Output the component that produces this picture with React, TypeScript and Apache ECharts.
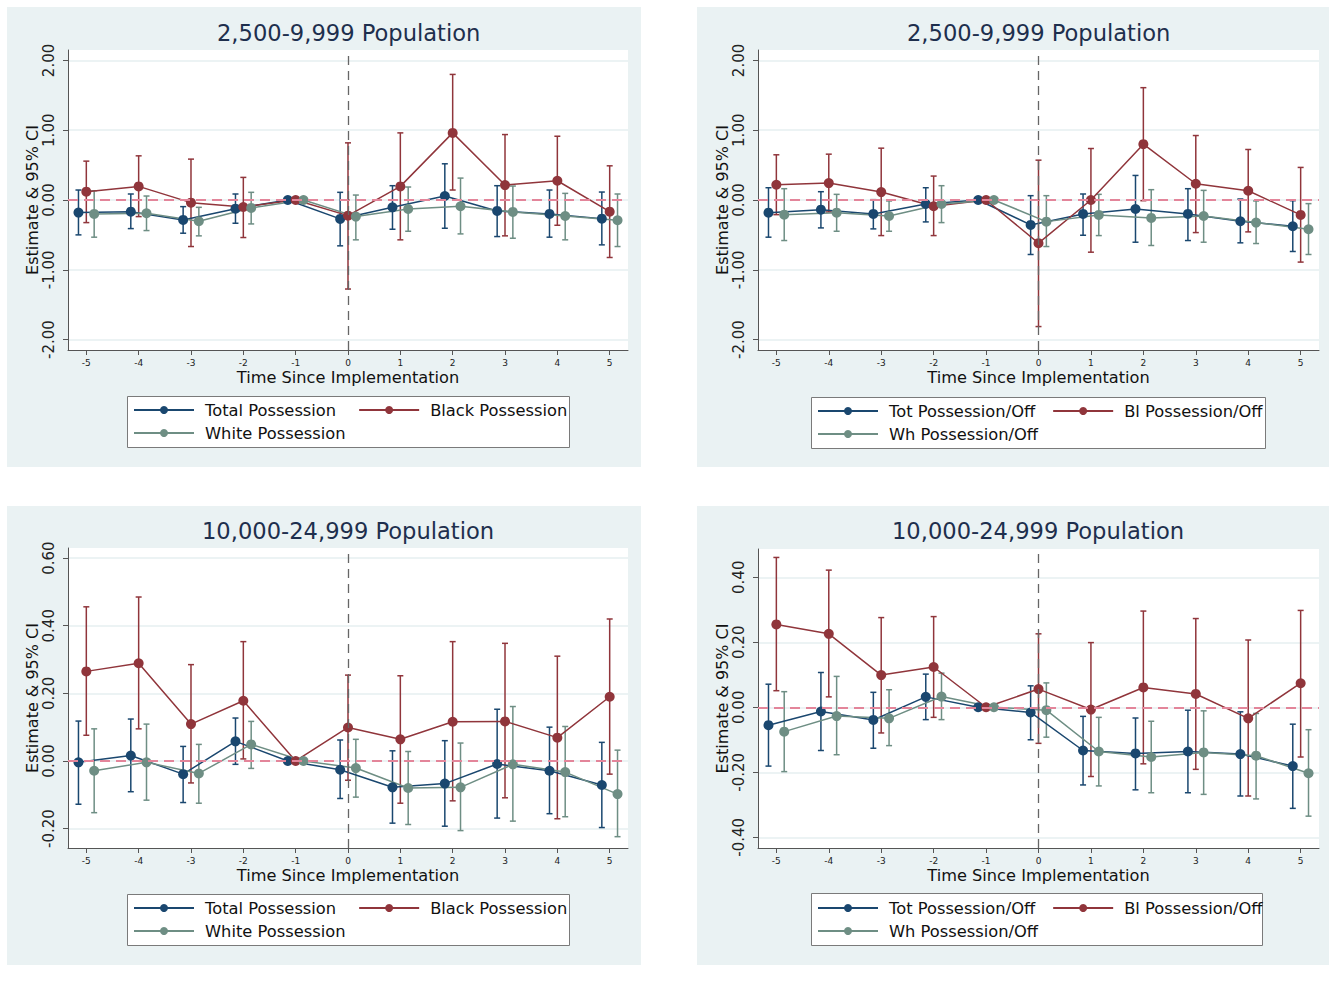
import React, { useEffect, useRef } from "react";
import * as echarts from "echarts";

// ---------- data ----------
const periods = [-5, -4, -3, -2, -1, 0, 1, 2, 3, 4, 5];

// Panel 1: 2,500-9,999 (possession)
const p1TotalEst = [-0.18, -0.167, -0.286, -0.124, 0, -0.271, -0.105, 0.057, -0.157, -0.2, -0.267];
const p1TotalLo = [-0.5, -0.41, -0.476, -0.333, null, -0.657, -0.419, -0.405, -0.524, -0.533, -0.643];
const p1TotalHi = [0.143, 0.086, -0.095, 0.086, null, 0.11, 0.205, 0.519, 0.205, 0.143, 0.114];
const p1BlackEst = [0.119, 0.195, -0.038, -0.1, 0, -0.224, 0.195, 0.962, 0.214, 0.276, -0.167];
const p1BlackLo = [-0.324, -0.238, -0.667, -0.538, null, -1.276, -0.571, 0.143, -0.514, -0.362, -0.824];
const p1BlackHi = [0.557, 0.633, 0.586, 0.324, null, 0.819, 0.962, 1.8, 0.938, 0.914, 0.49];
const p1WhiteEst = [-0.2, -0.19, -0.305, -0.114, 0, -0.238, -0.129, -0.09, -0.171, -0.229, -0.29];
const p1WhiteLo = [-0.533, -0.438, -0.514, -0.343, null, -0.571, -0.448, -0.486, -0.548, -0.571, -0.667];
const p1WhiteHi = [0.133, 0.057, -0.105, 0.11, null, 0.071, 0.186, 0.314, 0.2, 0.095, 0.086];

// Panel 2: 2,500-9,999 (possession / offenses)
const p2TotEst = [-0.181, -0.138, -0.2, -0.057, 0, -0.357, -0.2, -0.129, -0.2, -0.305, -0.376];
const p2TotLo = [-0.533, -0.4, -0.414, -0.314, null, -0.781, -0.505, -0.605, -0.581, -0.614, -0.738];
const p2TotHi = [0.176, 0.119, 0.005, 0.176, null, 0.062, 0.086, 0.352, 0.162, 0.014, -0.01];
const p2BlEst = [0.219, 0.243, 0.114, -0.09, 0, -0.619, 0.0, 0.8, 0.233, 0.133, -0.214];
const p2BlLo = [-0.21, -0.171, -0.51, -0.51, null, -1.814, -0.748, -0.01, -0.467, -0.457, -0.89];
const p2BlHi = [0.648, 0.657, 0.743, 0.343, null, 0.571, 0.738, 1.61, 0.924, 0.724, 0.467];
const p2WhEst = [-0.21, -0.181, -0.229, -0.057, 0, -0.31, -0.214, -0.257, -0.229, -0.324, -0.419];
const p2WhLo = [-0.581, -0.448, -0.448, -0.324, null, -0.667, -0.51, -0.652, -0.605, -0.624, -0.781];
const p2WhHi = [0.162, 0.081, -0.014, 0.205, null, 0.062, 0.081, 0.148, 0.138, -0.014, -0.052];

// Panel 3: 10,000-24,999 (possession)
const p3TotalEst = [-0.004, 0.016, -0.039, 0.058, 0, -0.026, -0.078, -0.067, -0.009, -0.029, -0.071];
const p3TotalLo = [-0.128, -0.091, -0.123, -0.01, null, -0.111, -0.184, -0.193, -0.169, -0.156, -0.197];
const p3TotalHi = [0.118, 0.124, 0.043, 0.127, null, 0.062, 0.03, 0.06, 0.153, 0.1, 0.055];
const p3BlackEst = [0.265, 0.289, 0.109, 0.178, 0, 0.099, 0.064, 0.116, 0.117, 0.069, 0.19];
const p3BlackLo = [0.076, 0.095, -0.065, 0.006, null, -0.057, -0.125, -0.118, -0.109, -0.171, -0.039];
const p3BlackHi = [0.456, 0.485, 0.285, 0.353, null, 0.254, 0.252, 0.353, 0.348, 0.31, 0.42];
const p3WhiteEst = [-0.029, -0.004, -0.037, 0.049, 0, -0.021, -0.08, -0.078, -0.01, -0.033, -0.098];
const p3WhiteLo = [-0.153, -0.116, -0.125, -0.022, null, -0.107, -0.188, -0.206, -0.178, -0.165, -0.224];
const p3WhiteHi = [0.095, 0.109, 0.049, 0.117, null, 0.064, 0.028, 0.053, 0.161, 0.102, 0.032];

// Panel 4: 10,000-24,999 (possession / offenses)
const p4TotEst = [-0.055, -0.013, -0.039, 0.032, 0, -0.016, -0.133, -0.142, -0.136, -0.144, -0.181];
const p4TotLo = [-0.181, -0.133, -0.126, -0.038, null, -0.1, -0.239, -0.254, -0.263, -0.273, -0.311];
const p4TotHi = [0.071, 0.107, 0.046, 0.102, null, 0.066, -0.028, -0.033, -0.009, -0.014, -0.052];
const p4BlEst = [0.255, 0.226, 0.099, 0.124, 0, 0.056, -0.007, 0.061, 0.041, -0.034, 0.074];
const p4BlLo = [0.051, 0.032, -0.079, -0.031, null, -0.111, -0.213, -0.174, -0.191, -0.273, -0.153];
const p4BlHi = [0.461, 0.422, 0.276, 0.279, null, 0.226, 0.199, 0.296, 0.273, 0.207, 0.298];
const p4WhEst = [-0.075, -0.027, -0.034, 0.033, 0, -0.009, -0.136, -0.153, -0.139, -0.149, -0.203];
const p4WhLo = [-0.198, -0.146, -0.118, -0.038, null, -0.092, -0.242, -0.263, -0.268, -0.282, -0.335];
const p4WhHi = [0.048, 0.095, 0.054, 0.105, null, 0.075, -0.031, -0.043, -0.011, -0.019, -0.069];

const leftNames = ["Total Possession", "Black Possession", "White Possession"];
const rightNames = ["Tot Possession/Off", "Bl Possession/Off", "Wh Possession/Off"];
const panelTitles = [
  "2,500-9,999 Population",
  "2,500-9,999 Population",
  "10,000-24,999 Population",
  "10,000-24,999 Population",
];
const yTicksTop = [-2, -1, 0, 1, 2];
const yTicksBL = [-0.2, 0, 0.2, 0.4, 0.6];
const yTicksBR = [-0.4, -0.2, 0, 0.2, 0.4];
const xAxisTitle = "Time Since Implementation";
const yAxisTitle = "Estimate & 95% CI";

// ---------- styling / layout ----------
const FONT = "DejaVu Sans";
const COLORS = ["#1a476f", "#90353b", "#6e8e84"];
const OFFSETS = [-0.15, 0, 0.15];
const PANEL_BG = "#eaf2f3";

const panels = [
  {
    names: leftNames,
    est: [p1TotalEst, p1BlackEst, p1WhiteEst],
    lo: [p1TotalLo, p1BlackLo, p1WhiteLo],
    hi: [p1TotalHi, p1BlackHi, p1WhiteHi],
    yTicks: yTicksTop, yMin: -2.15, yMax: 2.15,
    bg: [7, 7, 634, 460],
    grid: { left: 68, top: 50, width: 560, height: 300 },
    titleLeft: 217, titleTop: 21,
    box: [127, 396, 442, 51], legLeft: 133, legTop: 402, padR: 15,
  },
  {
    names: rightNames,
    est: [p2TotEst, p2BlEst, p2WhEst],
    lo: [p2TotLo, p2BlLo, p2WhLo],
    hi: [p2TotHi, p2BlHi, p2WhHi],
    yTicks: yTicksTop, yMin: -2.15, yMax: 2.15,
    bg: [697, 7, 632, 460],
    grid: { left: 758, top: 50, width: 561, height: 300 },
    titleLeft: 907, titleTop: 21,
    box: [811, 397, 454, 51], legLeft: 817, legTop: 403, padR: 10,
  },
  {
    names: leftNames,
    est: [p3TotalEst, p3BlackEst, p3WhiteEst],
    lo: [p3TotalLo, p3BlackLo, p3WhiteLo],
    hi: [p3TotalHi, p3BlackHi, p3WhiteHi],
    yTicks: yTicksBL, yMin: -0.2575, yMax: 0.63,
    bg: [7, 506, 634, 459],
    grid: { left: 68, top: 548, width: 560, height: 300 },
    titleLeft: 202, titleTop: 519,
    box: [127, 894, 442, 51], legLeft: 133, legTop: 900, padR: 15,
  },
  {
    names: rightNames,
    est: [p4TotEst, p4BlEst, p4WhEst],
    lo: [p4TotLo, p4BlLo, p4WhLo],
    hi: [p4TotHi, p4BlHi, p4WhHi],
    yTicks: yTicksBR, yMin: -0.433, yMax: 0.487,
    bg: [697, 506, 632, 459],
    grid: { left: 758, top: 549, width: 561, height: 299 },
    titleLeft: 892, titleTop: 519,
    box: [811, 893, 451, 52], legLeft: 817, legTop: 900, padR: 10,
  },
];

function buildOption() {
  const grid: any[] = [];
  const xAxis: any[] = [];
  const yAxis: any[] = [];
  const series: any[] = [];
  const title: any[] = [];
  const legend: any[] = [];
  const graphic: any[] = [];

  panels.forEach((p, pi) => {
    graphic.push({
      type: "rect", z: -20, silent: true,
      shape: { x: p.bg[0], y: p.bg[1], width: p.bg[2], height: p.bg[3] },
      style: { fill: PANEL_BG },
    });
    graphic.push({
      type: "rect", z: -19, silent: true,
      shape: { x: p.box[0] + 0.5, y: p.box[1] + 0.5, width: p.box[2], height: p.box[3] },
      style: { fill: "#ffffff", stroke: "#7a7a7a", lineWidth: 1 },
    });

    grid.push({ ...p.grid, show: true, backgroundColor: "#ffffff", borderWidth: 0 });

    xAxis.push({
      type: "value", gridIndex: pi, min: -5.35, max: 5.35,
      axisLine: { show: true, onZero: false, lineStyle: { color: "#555", width: 1 } },
      axisTick: { show: true, customValues: periods, length: 5, lineStyle: { color: "#555" } },
      axisLabel: { customValues: periods, fontSize: 9, color: "#222", margin: 8, fontFamily: FONT },
      splitLine: { show: false },
      name: xAxisTitle, nameLocation: "middle", nameGap: 19,
      nameTextStyle: { fontSize: 16.2, color: "#111", fontFamily: FONT },
    });
    yAxis.push({
      type: "value", gridIndex: pi, min: p.yMin, max: p.yMax,
      axisLine: { show: true, onZero: false, lineStyle: { color: "#555", width: 1 } },
      axisTick: { show: true, customValues: p.yTicks, length: 5, lineStyle: { color: "#555" } },
      axisLabel: {
        customValues: p.yTicks, rotate: 90, fontSize: 15, color: "#222", margin: 12, fontFamily: FONT,
        formatter: (v: number) => v.toFixed(2),
      },
      splitLine: { show: true, lineStyle: { color: "#e6eff1", width: 1.5 } },
      name: yAxisTitle, nameLocation: "middle", nameGap: 27,
      nameTextStyle: { fontSize: 16, color: "#111", fontFamily: FONT },
    });

    title.push({
      text: panelTitles[pi], left: p.titleLeft, top: p.titleTop, padding: 0,
      textStyle: { fontSize: 22.6, fontWeight: "normal", color: "#1e2f4d", fontFamily: FONT },
    });

    legend.push({
      data: p.names, left: p.legLeft, top: p.legTop, padding: 0, width: 480,
      itemWidth: 60, itemHeight: 10, itemGap: 7, selectedMode: false,
      textStyle: { fontSize: 16.3, lineHeight: 16, color: "#111", fontFamily: FONT, padding: [0, p.padR, 0, 6] },
    });

    for (let s = 0; s < 3; s++) {
      const color = COLORS[s];
      const off = OFFSETS[s];
      const ciData = periods
        .map((x, i) => [x + off, p.lo[s][i], p.hi[s][i]])
        .filter((d) => d[1] !== null && d[2] !== null);
      const ci: any = {
        type: "custom", name: p.names[s] + " CI", xAxisIndex: pi, yAxisIndex: pi, z: 2,
        silent: true,
        encode: { x: 0, y: [1, 2] },
        data: ciData,
        renderItem: (params: any, api: any) => {
          const x = api.value(0);
          const a = api.coord([x, api.value(1)]);
          const b = api.coord([x, api.value(2)]);
          const cap = 3;
          const st = { stroke: color, lineWidth: 1.5 };
          return {
            type: "group",
            children: [
              { type: "line", shape: { x1: a[0], y1: a[1], x2: b[0], y2: b[1] }, style: st },
              { type: "line", shape: { x1: a[0] - cap, y1: a[1], x2: a[0] + cap, y2: a[1] }, style: st },
              { type: "line", shape: { x1: b[0] - cap, y1: b[1], x2: b[0] + cap, y2: b[1] }, style: st },
            ],
          };
        },
      };
      if (s === 0) {
        ci.markLine = {
          silent: true, symbol: ["none", "none"], label: { show: false },
          data: [
            { yAxis: 0, lineStyle: { color: "#e3859a", width: 2, type: [10, 6] } },
            { xAxis: 0, lineStyle: { color: "#666", width: 1.3, type: [9, 6] } },
          ],
        };
      }
      series.push(ci);
    }
    for (let s = 0; s < 3; s++) {
      const color = COLORS[s];
      const off = OFFSETS[s];
      series.push({
        type: "line", name: p.names[s], xAxisIndex: pi, yAxisIndex: pi, z: 3,
        data: periods.map((x, i) => [x + off, p.est[s][i]]),
        symbol: "circle", symbolSize: 10, showSymbol: true,
        itemStyle: { color },
        lineStyle: { color, width: 1.5 },
        emphasis: { disabled: true },
      });
    }
  });

  return {
    animation: false,
    textStyle: { fontFamily: FONT },
    grid, xAxis, yAxis, series, title, legend, graphic,
  };
}

export default function App() {
  const ref = useRef<HTMLDivElement>(null);
  useEffect(() => {
    if (!ref.current) return;
    const chart = echarts.init(ref.current, undefined, { renderer: "svg" });
    chart.setOption(buildOption() as any);
    return () => chart.dispose();
  }, []);
  return (
    <div
      ref={ref}
      style={{ position: "absolute", left: 0, top: 0, width: 1329, height: 999, background: "#ffffff" }}
    />
  );
}
